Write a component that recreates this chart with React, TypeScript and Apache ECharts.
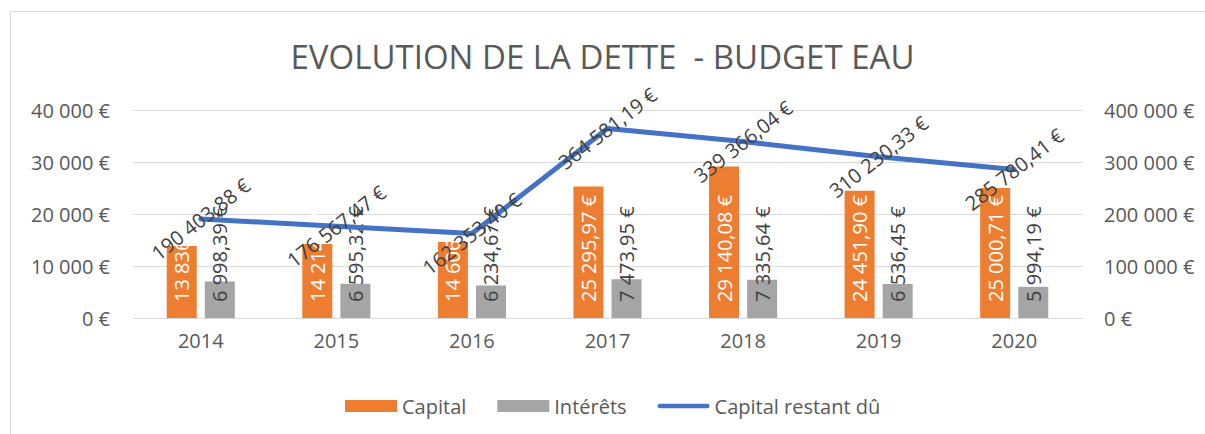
import React, { useEffect, useRef } from "react";
import * as echarts from "echarts";

const years = ["2014", "2015", "2016", "2017", "2018", "2019", "2020"];
const capital = [13836.41, 14214.07, 14606.21, 25295.97, 29140.08, 24451.9, 25000.71];
const interets = [6998.39, 6595.32, 6234.67, 7473.95, 7335.64, 6536.45, 5994.19];
const capitalRestant = [190403.88, 176567.47, 162353.4, 364581.19, 339366.04, 310230.33, 285780.41];

const FONT = "'Open Sans', sans-serif";

const money = (v: number, dec: number) => {
  const s = v.toFixed(dec);
  const [i, d] = s.split(".");
  const ii = i.replace(/\B(?=(\d{3})+(?!\d))/g, " ");
  return d ? `${ii},${d} €` : `${ii} €`;
};

export default function App() {
  const ref = useRef<HTMLDivElement>(null);
  useEffect(() => {
    if (!ref.current) return;
    const chart = echarts.init(ref.current, undefined, { renderer: "svg" });
    chart.setOption({
      animation: false,
      textStyle: { fontFamily: FONT },
      title: {
        text: "EVOLUTION DE LA DETTE  - BUDGET EAU",
        left: "center",
        top: 35,
        textStyle: { fontFamily: FONT, fontSize: 33, fontWeight: "normal", color: "#595959" },
      },
      graphic: [
        {
          type: "rect",
          shape: { x: 10.5, y: 11.5, width: 1300, height: 600 },
          style: { fill: "none", stroke: "#D9D9D9", lineWidth: 1 },
          silent: true,
        },
      ],
      grid: { left: 133, right: 123, top: 110, bottom: 116, containLabel: false },
      legend: {
        left: 340,
        top: 391,
        itemWidth: 52,
        itemHeight: 12,
        itemGap: 31,
        textStyle: { fontFamily: FONT, fontSize: 20, color: "#595959" },
        data: [
          { name: "Capital", icon: "rect" },
          { name: "Intérêts", icon: "rect" },
          {
            name: "Capital restant dû",
            icon: "path://M2,0 L54,0 A2.5,2.5 0 0 1 54,5 L2,5 A2.5,2.5 0 0 1 2,0 Z",
            itemStyle: { color: "#4472C4" },
          },
        ],
      },
      xAxis: {
        type: "category",
        data: years,
        axisLine: { lineStyle: { color: "#D9D9D9", width: 1 } },
        axisTick: { show: false },
        axisLabel: { fontFamily: FONT, fontSize: 20, color: "#595959", margin: 12 },
      },
      yAxis: [
        {
          type: "value",
          min: 0,
          max: 40000,
          interval: 10000,
          axisLine: { show: false },
          axisTick: { show: false },
          splitLine: { lineStyle: { color: "#D9D9D9", width: 1 } },
          axisLabel: {
            fontFamily: FONT,
            fontSize: 20,
            color: "#595959",
            margin: 23,
            formatter: (v: number) => money(v, 0),
          },
        },
        {
          type: "value",
          min: 0,
          max: 400000,
          interval: 100000,
          axisLine: { show: false },
          axisTick: { show: false },
          splitLine: { show: false },
          axisLabel: {
            fontFamily: FONT,
            fontSize: 20,
            color: "#595959",
            margin: 22,
            formatter: (v: number) => money(v, 0),
          },
        },
      ],
      series: [
        {
          name: "Capital",
          type: "bar",
          data: capital,
          barWidth: 30,
          barGap: "27%",
          itemStyle: { color: "#ED7D31" },
          label: {
            show: true,
            position: "insideBottom",
            distance: 16,
            rotate: 90,
            align: "left",
            verticalAlign: "middle",
            fontFamily: FONT,
            fontSize: 20,
            color: "#FFFFFF",
            formatter: (p: any) => money(p.value, 2),
          },
        },
        {
          name: "Intérêts",
          type: "bar",
          data: interets,
          barWidth: 30,
          itemStyle: { color: "#A5A5A5" },
          label: {
            show: true,
            position: "insideBottom",
            distance: 16,
            rotate: 90,
            align: "left",
            verticalAlign: "middle",
            fontFamily: FONT,
            fontSize: 20,
            color: "#404040",
            formatter: (p: any) => money(p.value, 2),
          },
        },
        {
          name: "Capital restant dû",
          type: "line",
          yAxisIndex: 1,
          data: capitalRestant,
          symbol: "circle",
          symbolSize: 1,
          showSymbol: true,
          itemStyle: { color: "#4472C4" },
          lineStyle: { color: "#4472C4", width: 5, cap: "round" },
          label: {
            show: true,
            position: "inside",
            rotate: 38,
            align: "center",
            verticalAlign: "middle",
            fontFamily: FONT,
            fontSize: 20,
            color: "#404040",
            formatter: (p: any) => money(p.value, 2),
          },
        },
      ],
    });
    return () => chart.dispose();
  }, []);
  return (
    <div
      ref={ref}
      style={{ position: "fixed", left: 0, top: 0, width: 1205, height: 434, background: "#fff" }}
    />
  );
}
